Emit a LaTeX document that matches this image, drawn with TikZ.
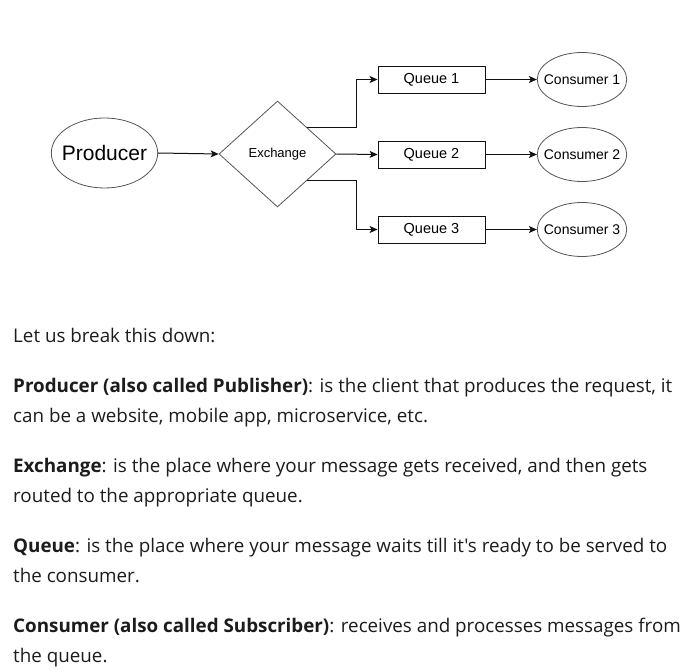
\documentclass[tikz,border=0pt]{standalone}
\usepackage{fontspec}
\usepackage{tikz}
\usetikzlibrary{arrows.meta,positioning,calc,shapes.geometric}
\newfontfamily\diafont{Liberation Sans}
\newfontfamily\bodyfont{Open Sans}
\definecolor{FlowLine}{HTML}{111111}
\definecolor{ShapeLine}{HTML}{555555}
\definecolor{BodyText}{HTML}{1C1C1C}
\tikzset{
  oval/.style={ellipse,draw=ShapeLine,line width=.8pt,inner ysep=0pt},
  qbox/.style={rectangle,draw=FlowLine,line width=.9pt,minimum width=107pt,minimum height=27pt,inner sep=0pt,font=\diafont\fontsize{14.5}{16}\selectfont},
  flow/.style={draw=FlowLine,line width=1pt,-{Stealth[length=8pt,width=7pt,inset=2pt]}},
  bodyline/.style={anchor=base west,inner sep=0pt,text=BodyText,font=\bodyfont\fontsize{18.8}{22}\selectfont}
}
\begin{document}
\begin{tikzpicture}[x=1pt,y=-1pt]
    \useasboundingbox[fill=white] (0,0) rectangle (696,671);
    % diagram
    \node[oval,inner xsep=-5pt,minimum width=106pt,minimum height=70pt,font=\diafont\fontsize{21}{24}\selectfont] (prod) at (104.5,153) {Producer};
    \node[diamond,draw=ShapeLine,line width=.8pt,inner sep=0pt,minimum width=117pt,minimum height=106pt,aspect=1.1,font=\diafont\fontsize{13}{15}\selectfont] (ex) at (277.5,154) {Exchange};
    \node[qbox] (q1) at (431.5,79.5) {Queue 1};
    \node[qbox] (q2) at (431.5,154.5) {Queue 2};
    \node[qbox] (q3) at (431.5,229.5) {Queue 3};
    \foreach \i/\y in {1/79.5,2/154.5,3/229.5}
      \node[oval,inner xsep=-6.5pt,minimum width=89pt,minimum height=54pt,font=\diafont\fontsize{14}{16}\selectfont] (c\i) at (582,\y) {Consumer \i};
    \coordinate (ne) at ($(ex.north)!.5!(ex.east)$);
    \coordinate (se) at ($(ex.south)!.5!(ex.east)$);
    \draw[flow] (prod.east) -- (ex.west);
    \draw[flow] (ne) -| ([xshift=-21pt]q1.west) -- (q1.west);
    \draw[flow] (ex.east) -- (q2.west);
    \draw[flow] (se) -| ([xshift=-21pt]q3.west) -- (q3.west);
    \foreach \i in {1,2,3}
      \draw[flow] (q\i.east) -- (c\i.west);
    % explanation
    \node[bodyline] (t1) at (13,342) {Let us break this down:};
    \node[bodyline] (t2) at (13,392) {\textbf{Producer (also called Publisher)}: is the client that produces the request, it};
    \node[bodyline] (t3) at (13,422) {can be a website, mobile app, microservice, etc.};
    \node[bodyline] (t4) at (13,472) {\textbf{Exchange}: is the place where your message gets received, and then gets};
    \node[bodyline] (t5) at (13,502) {routed to the appropriate queue.};
    \node[bodyline] (t6) at (13,552) {\textbf{Queue}: is the place where your message waits till it's ready to be served to};
    \node[bodyline] (t7) at (13,582) {the consumer.};
    \node[bodyline] (t8) at (13,632) {\textbf{Consumer (also called Subscriber)}: receives and processes messages from};
    \node[bodyline] (t9) at (13,662) {the queue.};
  \end{tikzpicture}
\end{document}
